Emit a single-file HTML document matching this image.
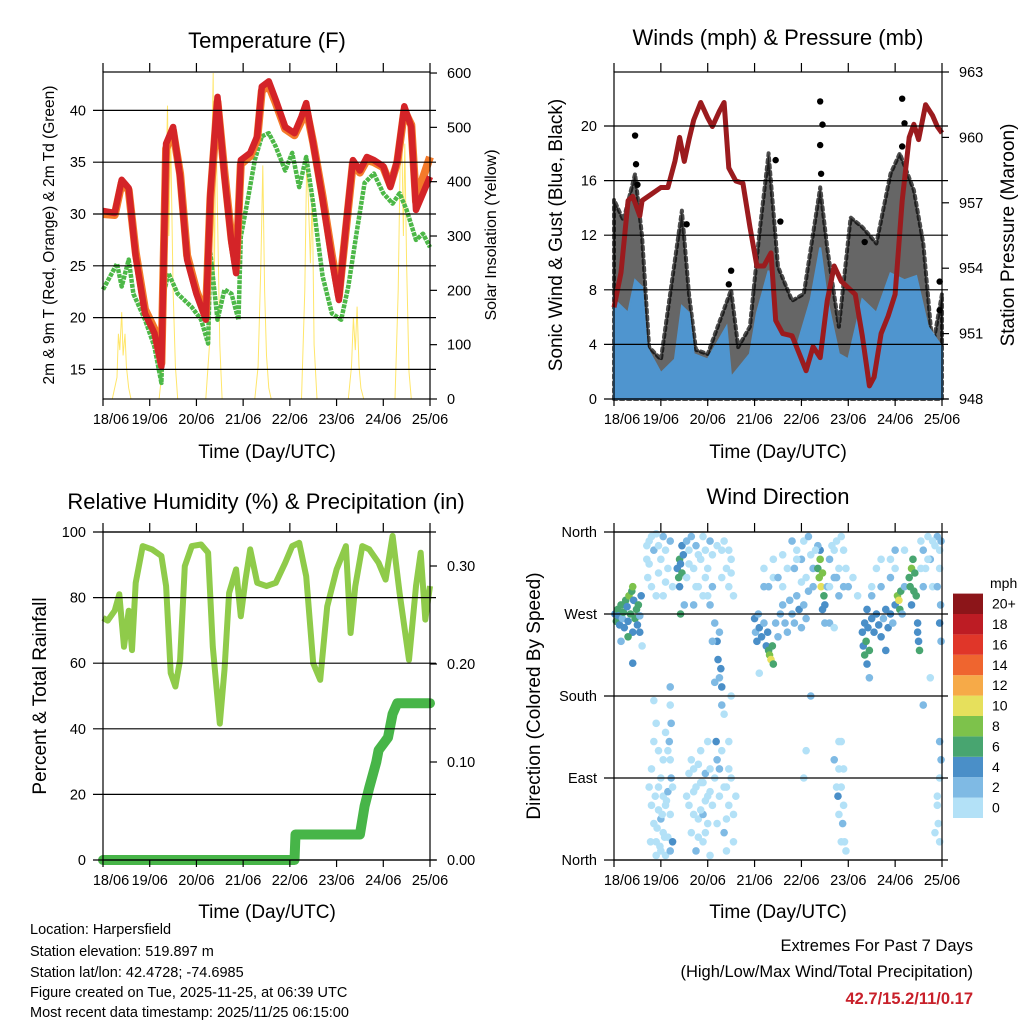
<!DOCTYPE html>
<html><head><meta charset="utf-8"><style>
html,body{margin:0;padding:0;background:#fff}
svg{display:block;font-family:"Liberation Sans",sans-serif}
</style></head><body>
<svg id="chart" width="1024" height="1024" viewBox="0 0 1024 1024">
<rect width="1024" height="1024" fill="#fff"/>
<g font-size="22" text-anchor="middle" fill="#000">
<text x="267" y="48">Temperature (F)</text>
<text x="778" y="45">Winds (mph) &amp; Pressure (mb)</text>
<text x="266" y="509">Relative Humidity (%) &amp; Precipitation (in)</text>
<text x="778" y="504">Wind Direction</text>
</g>
<g font-size="19" text-anchor="middle">
<text x="267" y="458">Time (Day/UTC)</text>
<text x="778" y="458">Time (Day/UTC)</text>
<text x="267" y="918">Time (Day/UTC)</text>
<text x="778" y="918">Time (Day/UTC)</text>
<text transform="translate(54,235) rotate(-90)" font-size="15.5">2m &amp; 9m T (Red, Orange) &amp; 2m Td (Green)</text>
<text transform="translate(496,235) rotate(-90)" font-size="16">Solar Insolation (Yellow)</text>
<text transform="translate(562,235) rotate(-90)">Sonic Wind &amp; Gust (Blue, Black)</text>
<text transform="translate(1014,235) rotate(-90)">Station Pressure (Maroon)</text>
<text transform="translate(46,696) rotate(-90)">Percent &amp; Total Rainfall</text>
<text transform="translate(540,696) rotate(-90)">Direction (Colored By Speed)</text>
</g>
<g font-size="14.5" fill="#000">
<text x="30" y="934">Location: Harpersfield</text>
<text x="30" y="956">Station elevation: 519.897 m</text>
<text x="30" y="977">Station lat/lon: 42.4728; -74.6985</text>
<text x="30" y="997">Figure created on Tue, 2025-11-25, at 06:39 UTC</text>
<text x="30" y="1017">Most recent data timestamp: 2025/11/25 06:15:00</text>
</g>
<g font-size="16.5" text-anchor="end">
<text x="973" y="951">Extremes For Past 7 Days</text>
<text x="973" y="977">(High/Low/Max Wind/Total Precipitation)</text>
<text x="973" y="1004" fill="#c8202a" font-weight="bold">42.7/15.2/11/0.17</text>
</g>
<text x="990" y="588" font-size="14">mph</text>
<g id="layer"></g>
</svg>
<script>
const days = ['18/06','19/06','20/06','21/06','22/06','23/06','24/06','25/06'];
// Temperature panel
const tempT = [0,0.25,0.4,0.55,0.7,0.9,1.1,1.25,1.35,1.5,1.65,1.8,2.0,2.2,2.3,2.45,2.6,2.75,2.85,2.95,3.15,3.3,3.4,3.55,3.7,3.9,4.1,4.25,4.35,4.5,4.7,4.9,5.05,5.2,5.35,5.5,5.65,5.8,6.0,6.15,6.3,6.45,6.6,6.7,6.85,7.0];
const temp2m = [30.3,30.1,33.3,32.5,25.9,20.4,18.5,15.3,36.8,38.4,33.6,25.6,22.3,19.8,32,41.3,33.6,27.2,24.3,35.2,35.9,37.5,42.3,42.8,41,38.4,37.8,39.4,40.7,36.8,31.4,25.6,21.7,28.8,35.2,34.2,35.5,35.2,34.6,32.6,35.2,40.4,38.4,30.4,32,33.6];
const temp9m = [30.0,29.9,33.0,32.3,26.3,20.8,18.9,15.6,36.3,38.0,33.9,26.0,22.6,20.1,31.5,40.8,34.0,27.6,24.8,34.8,35.6,37.2,41.9,42.4,40.7,38.2,37.6,39.0,40.2,36.9,31.7,26.0,22.1,28.5,34.9,34.0,35.2,35.0,34.5,32.8,35.0,40.0,38.6,31.2,33.5,35.5];
const tdT = [0,0.3,0.4,0.55,0.65,0.9,1.1,1.25,1.3,1.4,1.6,1.9,2.1,2.25,2.3,2.45,2.6,2.75,2.9,2.95,3.1,3.25,3.4,3.55,3.7,3.9,4.05,4.2,4.35,4.5,4.7,4.9,5.1,5.25,5.45,5.6,5.8,6.0,6.2,6.35,6.5,6.7,6.85,7.0];
const dewpoint = [22.7,25.2,23,25.6,22.3,19.8,17.2,13.7,22.3,24.3,22.3,21,19.8,17.5,26.2,19.8,22.7,22.3,19.8,27.8,31.4,35.2,37.5,37.8,36.5,34.2,35.9,32.6,35.5,31,24,20.4,19.8,23,28.8,33,33.9,32,31,32,30.4,27.5,28.1,26.8];
const solarT = [0.2,0.3,0.33,0.36,0.4,0.43,0.47,0.5,0.55,0.6, 1.2,1.3,1.35,1.38,1.41,1.45,1.5,1.55,1.6, 2.2,2.28,2.33,2.36,2.38,2.42,2.46,2.5,2.55, 3.25,3.32,3.38,3.42,3.46,3.5,3.55,3.6, 4.25,4.32,4.36,4.4,4.44,4.48,4.52,4.58, 5.25,5.32,5.36,5.4,5.44,5.48,5.52,5.58, 6.25,6.32,6.36,6.4,6.43,6.46,6.5,6.55,6.6];
const solarV = [0,40,120,90,160,80,120,60,20,0, 0,80,400,540,300,480,200,60,0, 0,100,450,600,200,500,300,100,0, 0,60,250,430,200,80,20,0, 0,200,440,360,250,380,100,0, 0,60,150,90,170,60,20,0, 0,200,430,460,300,470,250,50,0];
const tempTicks = [15,20,25,30,35,40];
const solarTicks = [0,100,200,300,400,500,600];
// Wind panel
const windT = [0,0.3,0.45,0.6,0.7,1.0,1.3,1.45,1.6,1.7,2.0,2.4,2.5,2.9,3.05,3.3,3.5,3.9,4.2,4.4,4.55,4.8,5.0,5.3,5.6,5.9,6.2,6.45,6.7,7.0];
const windSpeed = [7.3,6.3,8.7,8.2,3.8,1.9,2.9,6.8,6.3,3.3,2.9,5.3,1.6,3.3,6.3,9.4,5.3,3.8,7.3,11.1,7.3,3.3,2.9,7.3,6.3,9.2,8.7,9,5.3,3.8];
const gustT = [0,0.2,0.45,0.6,0.75,1.0,1.45,1.6,1.75,2.0,2.5,2.65,2.9,3.1,3.3,3.5,3.8,4.05,4.4,4.55,4.8,5.05,5.3,5.6,5.9,6.1,6.4,6.6,6.8,7.0];
const gustTop = [14.6,13.1,16.5,11.9,3.8,2.9,13.8,7.7,3.6,3.3,8,3.8,5.3,12.1,18,9.7,7.2,7.7,15.5,11.1,5.3,13.3,12.6,11.4,16.5,18,15.3,11.4,3.8,7.7];
const gustOutT = [0.45,0.47,0.5,1.55,2.5,2.45,3.45,4.4,4.45,4.4,4.42,6.15,6.2,6.15,6.95,6.95,3.55,5.35];
const gustOutV = [19.3,17.2,15.7,12.8,9.4,8.4,17.5,21.8,20.1,18.6,16.5,22,20.2,18.5,6.5,8.6,13,11.5];
const presT = [0,0.15,0.3,0.4,0.55,0.6,0.8,1.0,1.15,1.3,1.4,1.5,1.6,1.7,1.85,2.0,2.1,2.25,2.35,2.45,2.6,2.75,2.9,3.05,3.2,3.35,3.45,3.6,3.8,3.95,4.1,4.25,4.4,4.55,4.7,4.85,5.0,5.15,5.3,5.45,5.55,5.7,5.85,6.0,6.15,6.3,6.4,6.5,6.65,6.8,6.9,7.0];
const pressure = [952.2,953.8,957.1,957.3,956.4,957.1,957.4,957.7,957.7,958.9,960,958.9,959.9,960.8,961.6,960.9,960.5,961.2,961.6,958.6,958,957.9,955.9,954.1,954.1,954.7,951.6,951,950.9,950.1,949.3,950.4,949.9,952.5,954.1,953.4,953.1,952.8,950.9,948.6,949,951,951.8,952.8,957.1,960,960.6,959.9,961.5,961,960.5,960.2];
const windTicks = [0,4,8,12,16,20];
const presTicks = [948,951,954,957,960,963];
// Humidity panel
const rhT = [0,0.1,0.25,0.35,0.45,0.55,0.62,0.7,0.85,1.05,1.25,1.35,1.45,1.55,1.65,1.75,1.9,2.1,2.25,2.35,2.5,2.6,2.7,2.85,2.95,3.05,3.15,3.3,3.5,3.7,3.9,4.05,4.2,4.35,4.5,4.65,4.8,5.0,5.2,5.3,5.4,5.55,5.7,5.9,6.05,6.2,6.35,6.55,6.7,6.8,6.9,7.0];
const rh = [73.8,73,76,81,65,76,64,84.5,95.7,94.7,92.7,83.5,57,52.9,61,89.6,95.7,96.2,93.7,65,41.6,58,81.4,88.6,74.3,85.5,94.7,84.5,83.5,84.5,90.6,95.7,96.7,86.5,60,54.9,77.3,88.6,95.7,69.2,83.5,95.7,94.7,90.6,85.5,98.8,81.4,61,83.5,93.7,73.3,83.5];
const precipT = [0,4.1,4.12,5.5,5.6,5.7,5.85,5.9,6.1,6.2,6.3,7.0];
const precip = [0,0,0.026,0.026,0.055,0.074,0.1,0.112,0.125,0.149,0.16,0.16];
const rhTicks = [0,20,40,60,80,100];
const precipTicks = ['0.00','0.10','0.20','0.30'];
// Direction panel: [day, degrees, mph]
const windObs = [[0.02,270,5],[0.05,262,6],[0.08,275,7],[0.1,268,4],[0.12,258,5],[0.15,280,6],[0.18,265,3],[0.2,272,7],[0.22,255,5],[0.25,285,6],[0.28,278,4],[0.3,262,5],[0.32,290,8],[0.35,270,6],[0.38,295,7],[0.4,300,9],[0.42,285,5],[0.45,265,6],[0.48,275,7],[0.5,258,4],[0.52,280,6],[0.55,268,3],[0.58,290,5],[0.15,240,3],[0.6,235,1],[0.4,250,4],[0.55,250,4],[0.3,245,6],[0.4,216,4],
[0.7,330,1],[0.75,350,1],[0.8,355,1],[0.85,340,2],[0.9,358,1],[0.95,345,1],[1.0,330,1],[1.05,355,2],[1.1,340,1],[1.15,320,1],[1.2,350,2],[1.25,300,1],[0.72,310,1],[0.9,290,1],[0.85,175,1],
[0.85,40,1],[0.9,20,1],[0.95,55,1],[1.0,10,1],[1.05,30,1],[1.1,60,1],[0.95,80,1],[1.0,45,2],[1.1,5,1],[1.15,25,1],[1.2,50,1],[0.8,60,1],[0.9,5,1],[1.05,70,1],[1.15,75,2],
[1.2,190,2],[1.2,170,1],[1.22,150,2],[1.18,130,2],[1.2,110,1],[1.15,120,1],[1.22,90,3],[1.25,80,1],[1.2,10,3],[1.25,20,4],
[1.35,320,5],[1.38,310,6],[1.4,330,7],[1.42,325,5],[1.45,315,6],[1.48,335,4],[1.4,300,5],[1.45,345,4],[1.42,270,6],[1.5,280,3],
[1.55,350,2],[1.6,340,1],[1.65,355,2],[1.7,320,1],[1.75,345,2],[1.8,300,1],[1.85,330,1],[1.9,355,1],[1.95,340,1],[2.0,320,1],[2.05,350,2],[1.7,280,2],[1.9,290,1],
[1.6,60,1],[1.65,30,1],[1.7,75,1],[1.75,10,2],[1.8,45,1],[1.85,85,1],[1.9,20,1],[1.95,65,1],[2.0,40,1],[2.05,5,1],[1.7,100,1],[1.85,120,1],[1.95,95,2],[2.0,130,1],[1.8,25,1],[1.9,50,2],[2.05,75,1],
[2.05,280,3],[2.1,300,2],[2.15,260,3],[2.2,240,4],[2.22,220,4],[2.25,200,3],[2.28,210,4],[2.3,190,4],[2.25,250,3],[2.15,195,2],[2.3,170,3],[2.35,160,1],[2.1,240,2],[2.2,110,3],[2.18,130,4],[2.25,100,2],
[2.3,340,1],[2.35,350,1],[2.4,320,1],[2.45,300,1],[2.5,330,1],[2.4,80,1],[2.45,60,1],[2.35,30,2],[2.4,10,1],[2.45,100,1],[2.5,180,1],[2.55,50,1],
[3.0,265,4],[3.02,250,3],[3.05,240,4],[3.08,270,3],[3.1,255,4],[3.15,245,4],[3.2,260,3],[3.25,235,4],[3.3,230,6],[3.32,225,8],[3.35,220,10],[3.38,235,7],[3.4,215,6],[3.28,250,4],[3.45,260,3],[3.5,245,3],[3.55,270,3],[3.6,280,3],[3.65,260,2],[3.7,250,2],[3.75,285,2],[3.8,270,3],[3.85,260,2],[3.9,290,2],[3.95,275,4],[4.0,255,3],[4.05,280,2],[4.1,265,2],[4.15,295,2],[3.1,205,1],[3.2,300,2],[3.4,310,1],[3.6,300,1],[3.7,320,1],
[3.9,340,1],[4.0,330,2],[4.05,350,1],[4.1,310,1],[4.15,355,2],[4.2,335,1],[4.25,320,2],[4.2,180,3],[4.1,120,1],[4.05,90,1],[3.9,330,1],
[4.35,320,6],[4.38,310,8],[4.4,330,9],[4.42,300,10],[4.45,315,8],[4.48,290,6],[4.4,340,4],[4.5,280,4],[4.45,275,4],[4.5,260,3],[4.35,345,3],
[4.55,300,2],[4.6,330,2],[4.65,345,1],[4.7,310,2],[4.75,350,1],[4.8,320,1],[4.85,355,1],[4.9,300,2],[4.6,260,2],[4.7,255,1],[4.8,100,1],[4.85,80,1],[4.9,60,1],[4.88,40,2],[4.92,20,1],[4.95,10,1],[4.85,130,1],[4.78,70,4],
[5.3,250,4],[5.32,235,5],[5.35,225,6],[5.38,240,6],[5.4,215,5],[5.42,255,5],[5.45,230,6],[5.35,260,4],[5.4,275,4],[5.5,265,4],[5.55,250,4],[5.6,270,4],[5.65,258,4],[5.7,245,4],[5.75,265,3],[5.8,275,4],[5.85,255,4],[5.9,270,4],[5.95,260,3],[5.45,200,3],[5.5,290,2],[5.7,300,2],[5.8,230,4],[5.6,320,1],
[6.0,280,4],[6.05,290,8],[6.08,285,10],[6.1,275,6],[6.12,295,6],[6.15,270,2],[6.2,300,3],[5.9,330,1],[6.0,340,2],
[6.3,310,6],[6.32,300,7],[6.35,320,8],[6.38,330,7],[6.4,295,6],[6.42,315,7],[6.45,290,6],[6.35,280,4],[6.48,260,4],[6.5,240,4],[6.52,230,6],[6.48,250,4],
[6.55,350,1],[6.6,340,2],[6.65,320,1],[6.7,355,1],[6.75,330,2],[6.8,300,1],[6.85,345,1],[6.9,355,2],[6.95,320,1],[6.98,350,2],[6.95,260,4],[6.98,240,3],[6.6,170,2],[6.9,70,1],[6.95,90,1],[6.92,40,1],[6.98,110,2],[6.85,30,1],[6.75,200,1],
[0.75,80,1],[0.8,100,1],[0.85,130,1],[0.9,150,1],[0.95,120,1],[1.0,90,1],[1.05,110,1],[1.1,140,1],[0.78,20,1],[0.88,70,1],[0.92,35,1],[0.98,15,1],[1.03,50,1],[1.08,25,1],[1.12,65,1],
[1.55,70,1],[1.6,95,1],[1.65,110,1],[1.7,50,1],[1.75,80,1],[1.8,105,1],[1.85,55,1],[1.9,85,1],[1.95,30,1],[2.0,70,1],[2.05,100,1],[2.1,60,1],[2.15,90,1],[2.2,40,1],[2.25,70,1],[2.3,120,1],[2.35,80,1],[2.4,45,1],[2.45,130,1],[2.5,90,1],[2.55,20,1],[2.6,70,1],
[0.7,345,1],[0.75,325,1],[0.8,300,1],[0.95,315,1],[1.05,290,1],[1.1,305,1],[1.55,310,1],[1.6,325,1],[1.75,300,1],[1.8,335,1],[1.95,310,1],[2.0,290,1],[2.1,335,1],[2.2,345,1],[2.3,310,1],[2.45,340,1],[2.5,315,1],[2.55,290,1],
[3.2,320,1],[3.3,300,2],[3.4,330,1],[3.5,310,2],[3.6,335,1],[3.8,350,2],[3.85,320,2],[4.0,305,1],[4.25,300,2],[4.3,340,1],
[4.6,300,1],[4.7,340,1],[4.75,310,2],[4.8,290,2],[4.9,340,1],[4.95,320,1],[5.0,300,2],[5.1,310,1],[5.2,290,1],
[4.75,80,1],[4.8,50,1],[4.85,20,1],[4.9,100,1],[4.8,130,1],[4.7,110,2],
[5.5,300,1],[5.7,330,1],[5.9,310,2],[6.0,320,1],[6.2,340,1],[6.55,320,1],[6.6,300,2],[6.7,330,1],[6.8,350,1],[6.9,300,2],[6.95,340,1],[6.97,280,3],[6.9,60,1],[6.95,20,1],[6.95,130,2]];
const dirTicks = ['North','East','South','West','North'];
const speedBins = ['0','2','4','6','8','10','12','14','16','18','20+'];
const speedColors = ['#b3e1f7','#7fbae4','#4a8fc8','#48a570','#7dc24b','#e6e05c','#f6aa48','#ef652f','#e03629','#bd1c24','#8c1519'];

const NS = 'http://www.w3.org/2000/svg';
const layer = document.getElementById('layer');
function mk(tag, attrs, parent){ const e = document.createElementNS(NS, tag); for (const k in attrs) e.setAttribute(k, attrs[k]); (parent||layer).appendChild(e); return e; }
function txt(x, y, s, anchor, size){ const e = mk('text', {x:x, y:y, 'text-anchor':anchor, 'font-size':size}); e.textContent = s; return e; }

const P1 = {l:103, r:430, t:72, b:399};
const P2 = {l:614, r:942, t:72, b:399};
const P3 = {l:103, r:430, t:532, b:860};
const P4 = {l:614, r:942, t:532, b:860};
function xs(P){ return d => P.l + d * (P.r - P.l) / 7; }
const x1 = xs(P1), x2 = xs(P2), x3 = xs(P3), x4 = xs(P4);
const yT = v => 214 - (v - 30) * 10.36;
const ySol = v => 399 - v * 0.5433;
const yW = v => 399 - v * 13.65;
const yP = v => 399 - (v - 948) * 21.8;
const yRH = v => 860 - v * 3.28;
const yPr = v => 860 - v * 980;
const yD = d => 860 - d * 328 / 360;

function frame(P, name, gridYs, leftLabels, rightTicks, rightLabels){
  const g = mk('g', {});
  
  
  gridYs.forEach((y, i) => {
    const ln = mk('line', {x1:P.l-10, x2:P.r+6, y1:y, y2:y, stroke:'#000', 'stroke-width':1.2}, g);
    
    
    const t = txt(P.l-17, y+5, leftLabels[i], 'end', 14.5);
    
    
  });
  if (rightTicks) rightTicks.forEach((y, i) => {
    mk('line', {x1:P.r, x2:P.r+7, y1:y, y2:y, stroke:'#000', 'stroke-width':1.2}, g);
    const t = txt(P.r+17, y+5, rightLabels[i], 'start', 14.5);
    
    
  });
  for (let d = 0; d <= 7; d++) {
    const x = P.l + d * (P.r - P.l) / 7;
    mk('line', {x1:x, x2:x, y1:P.b, y2:P.b+7, stroke:'#000', 'stroke-width':1.2}, g);
    mk('line', {x1:x, x2:x, y1:P.t-9, y2:P.t, stroke:'#000', 'stroke-width':1.2}, g);
    const t = txt(d === 0 ? x+8 : x, P.b+25, days[d], 'middle', 14.5);
    
    
  }
  const box = mk('rect', {x:P.l, y:P.t, width:P.r-P.l, height:P.b-P.t, fill:'none', stroke:'#000', 'stroke-width':1.2}, g);
  
  
}
function path(xf, yf, xsArr, ysArr){ return xsArr.map((t, i) => (i ? 'L' : 'M') + xf(t).toFixed(1) + ',' + yf(ysArr[i]).toFixed(1)).join(''); }

// ---- Panel 1
const s1 = mk('path', {d: path(x1, ySol, solarT, solarV), fill:'none', stroke:'#ffe66a', 'stroke-width':1});


const td = mk('path', {d: path(x1, yT, tdT, dewpoint), fill:'none', stroke:'#4db848', 'stroke-width':4.5, 'stroke-linejoin':'round', 'stroke-dasharray':'4 1'});


const t9 = mk('path', {d: path(x1, yT, tempT, temp9m), fill:'none', stroke:'#f47a2a', 'stroke-width':8, 'stroke-linejoin':'round'});


const t2 = mk('path', {d: path(x1, yT, tempT, temp2m), fill:'none', stroke:'#d42428', 'stroke-width':6.5, 'stroke-linejoin':'round'});


frame(P1, 'temperature', tempTicks.map(yT), tempTicks.map(String), solarTicks.map(ySol), solarTicks.map(String));

// ---- Panel 2
let gp = 'M' + x2(gustT[0]) + ',' + yW(0);
gustT.forEach((t, i) => { gp += 'L' + x2(t).toFixed(1) + ',' + yW(gustTop[i]).toFixed(1); });
gp += 'L' + x2(gustT[gustT.length-1]) + ',' + yW(0) + 'Z';
const gust = mk('path', {d: gp, fill:'#000', 'fill-opacity':0.6, stroke:'#000', 'stroke-opacity':0.7, 'stroke-width':4, 'stroke-dasharray':'3 4', 'stroke-linecap':'round', 'stroke-linejoin':'round'});


gustOutT.forEach((t, i) => {
  const c = mk('circle', {cx:x2(t), cy:yW(gustOutV[i]), r:3.2, fill:'#000'});
  
  
});
let wp = 'M' + x2(windT[0]) + ',' + yW(0);
windT.forEach((t, i) => { wp += 'L' + x2(t).toFixed(1) + ',' + yW(windSpeed[i]).toFixed(1); });
wp += 'L' + x2(windT[windT.length-1]) + ',' + yW(0) + 'Z';
const ws = mk('path', {d: wp, fill:'#4f95cf', stroke:'#4f95cf', 'stroke-width':2});


const pr = mk('path', {d: path(x2, yP, presT, pressure), fill:'none', stroke:'#9b1b1e', 'stroke-width':5, 'stroke-linejoin':'round'});


frame(P2, 'wind', windTicks.map(yW), windTicks.map(String), presTicks.map(yP), presTicks.map(String));

// ---- Panel 3
const rl = mk('path', {d: path(x3, yRH, rhT, rh), fill:'none', stroke:'#8fcb4a', 'stroke-width':6, 'stroke-linejoin':'round'});


const pl = mk('path', {d: path(x3, yPr, precipT, precip), fill:'none', stroke:'#47b548', 'stroke-width':10, 'stroke-linejoin':'round', 'stroke-linecap':'round'});


frame(P3, 'humidity', rhTicks.map(yRH), rhTicks.map(String), precipTicks.map(s => yPr(parseFloat(s))), precipTicks);

// ---- Panel 4
windObs.forEach(o => {
  const bin = Math.min(10, Math.floor(o[2] / 2));
  const c = mk('circle', {cx:x4(o[0]), cy:yD(o[1]), r:3.8, fill:speedColors[bin]});
  
  
});
frame(P4, 'direction', [0,90,180,270,360].map(yD), dirTicks, null, null);
speedBins.forEach((s, i) => {
  const y = 818 - (i + 1) * 20.4;
  const r = mk('rect', {x:953, y:y, width:30, height:20.4, fill:speedColors[i]});
  
  
  const t = txt(992, y + 15, s, 'start', 14);
  
  
});
</script>
</body></html>
